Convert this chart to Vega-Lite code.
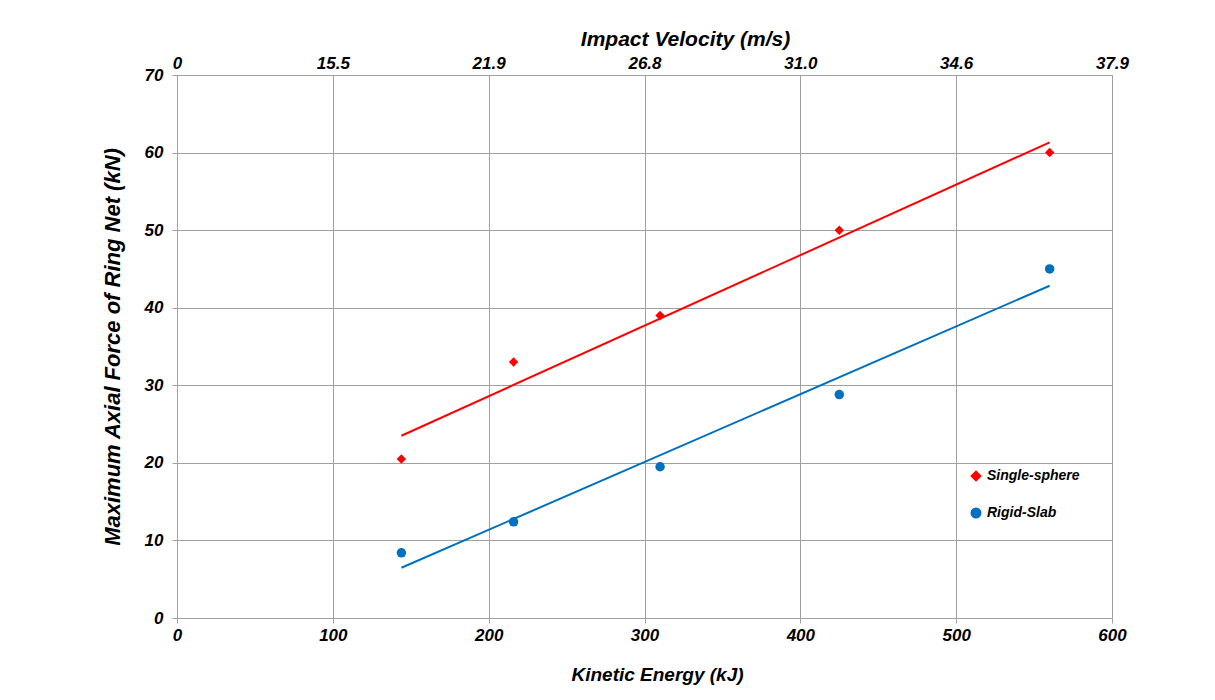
{
  "$schema": "https://vega.github.io/schema/vega-lite/v6.json",
  "width": 935,
  "height": 543,
  "autosize": {"type": "none"},
  "padding": {"left": 177, "top": 75, "right": 103, "bottom": 82},
  "background": "white",
  "config": {
    "view": {"stroke": "#a0a0a0", "strokeWidth": 1},
    "font": "Liberation Sans",
    "axis": {
      "labelFont": "Liberation Sans",
      "labelFontSize": 17,
      "labelFontWeight": "bold",
      "labelFontStyle": "italic",
      "labelColor": "black",
      "labelFlush": false,
      "titleFont": "Liberation Sans",
      "titleFontSize": 19,
      "titleFontWeight": "bold",
      "titleFontStyle": "italic",
      "titleColor": "black",
      "domainColor": "#a0a0a0",
      "tickColor": "#a0a0a0",
      "gridColor": "#a0a0a0",
      "gridOpacity": 1
    },
    "legend": {
      "labelFont": "Liberation Sans",
      "labelFontSize": 14,
      "labelFontWeight": "bold",
      "labelFontStyle": "italic",
      "labelColor": "black"
    }
  },
  "data": {
    "values": [
      {"series": "Single-sphere", "energy": 144, "force": 20.5},
      {"series": "Single-sphere", "energy": 216, "force": 33},
      {"series": "Single-sphere", "energy": 310, "force": 39},
      {"series": "Single-sphere", "energy": 425, "force": 50},
      {"series": "Single-sphere", "energy": 560, "force": 60},
      {"series": "Rigid-Slab", "energy": 144, "force": 8.4},
      {"series": "Rigid-Slab", "energy": 216, "force": 12.4},
      {"series": "Rigid-Slab", "energy": 310, "force": 19.5},
      {"series": "Rigid-Slab", "energy": 425, "force": 28.8},
      {"series": "Rigid-Slab", "energy": 560, "force": 45}
    ]
  },
  "layer": [
    {
      "mark": {"type": "point", "filled": true, "opacity": 1},
      "encoding": {
        "x": {
          "field": "energy",
          "type": "quantitative",
          "scale": {"domain": [0, 600], "nice": false},
          "axis": {
            "orient": "bottom",
            "title": "Kinetic Energy (kJ)",
            "values": [0, 100, 200, 300, 400, 500, 600],
            "grid": true,
            "ticks": true,
            "tickSize": 5,
            "labelPadding": 4,
            "titlePadding": 22,
            "titleX": 480,
            "titleAlign": "center"
          }
        },
        "y": {
          "field": "force",
          "type": "quantitative",
          "scale": {"domain": [0, 70], "nice": false},
          "axis": {
            "title": "Maximum Axial Force of Ring Net (kN)",
            "titleFontSize": 22,
            "values": [0, 10, 20, 30, 40, 50, 60, 70],
            "grid": true,
            "ticks": true,
            "tickSize": 5,
            "labelPadding": 9,
            "titlePadding": 20
          }
        },
        "color": {
          "field": "series",
          "type": "nominal",
          "scale": {"domain": ["Single-sphere", "Rigid-Slab"], "range": ["#ff0000", "#0070c0"]},
          "legend": {
            "title": null,
            "orient": "none",
            "legendX": 792,
            "legendY": 394,
            "rowPadding": 21,
            "symbolSize": 90,
            "labelOffset": 4
          }
        },
        "shape": {
          "field": "series",
          "type": "nominal",
          "scale": {"domain": ["Single-sphere", "Rigid-Slab"], "range": ["diamond", "circle"]},
          "legend": {
            "title": null,
            "orient": "none",
            "legendX": 792,
            "legendY": 394,
            "rowPadding": 21,
            "symbolSize": 90,
            "labelOffset": 4
          }
        },
        "size": {"value": 90}
      }
    },
    {
      "transform": [
        {"regression": "force", "on": "energy", "groupby": ["series"]}
      ],
      "mark": {"type": "line", "strokeWidth": 2},
      "encoding": {
        "x": {
          "field": "energy",
          "type": "quantitative",
          "scale": {"domain": [0, 600], "nice": false},
          "axis": {
            "orient": "top",
            "title": "Impact Velocity (m/s)",
            "titleFontSize": 21,
            "titleX": 508,
            "titleAlign": "center",
            "values": [0, 100, 200, 300, 400, 500, 600],
            "labelExpr": "datum.value == 0 ? '0' : datum.value == 100 ? '15.5' : datum.value == 200 ? '21.9' : datum.value == 300 ? '26.8' : datum.value == 400 ? '31.0' : datum.value == 500 ? '34.6' : '37.9'",
            "grid": false,
            "tickSize": 0,
            "labelPadding": 3,
            "titlePadding": 5
          }
        },
        "y": {
          "field": "force",
          "type": "quantitative",
          "scale": {"domain": [0, 70], "nice": false}
        },
        "color": {
          "field": "series",
          "type": "nominal",
          "scale": {"domain": ["Single-sphere", "Rigid-Slab"], "range": ["#ff0000", "#0070c0"]}
        }
      }
    }
  ],
  "resolve": {"axis": {"x": "independent"}}
}
